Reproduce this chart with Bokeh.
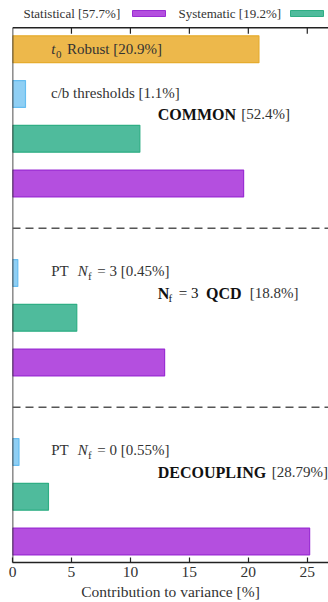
from bokeh.plotting import figure
from bokeh.models import Range1d, FixedTicker, Span
from bokeh.core.properties import value
from bokeh.embed import file_html
from bokeh.resources import INLINE

# ---- values (percent contribution to the variance) ----
groups = ["COMMON", "N_f = 3 QCD", "DECOUPLING"]
group_totals = [52.4, 18.8, 28.79]
statistical = [19.6, 12.9, 25.2]
systematic = [10.8, 5.45, 3.05]
pt_labels = ["c/b thresholds", "PT N_f = 3", "PT N_f = 0"]
pt_values = [1.1, 0.45, 0.55]
t0_robust = 20.9
legend_names = ["Statistical", "Systematic"]
legend_totals = [57.7, 19.2]
x_ticks = [0, 5, 10, 15, 20, 25]

# ---- colours ----
C_STAT, E_STAT = "#b44fdf", "#9a2ed3"
C_SYST, E_SYST = "#4fbb9c", "#2fae84"
C_PT, E_PT = "#8fcff4", "#66bdf0"
C_T0, E_T0 = "#edb84b", "#e6ac2e"
TXT = "#333333"
BOLD = "#111111"
FONT = "Liberation Serif"
NORMAL = "15px"
BOLD_SIZE = "16px"
SUB = "11px"

W, H = 328, 602
LEFT = 12            # frame left edge in px
BOTTOM_PANEL = 40    # height reserved under the frame
X_END = 26.8
Y_START, Y_END = -0.47, 12.09
XS = (W - LEFT) / X_END
YS = (H - BOTTOM_PANEL) / (Y_END - Y_START)


def px_x(px):
    return (px - LEFT) / XS


def px_y(py):
    return Y_END - py / YS


p = figure(width=W, height=H, output_backend="svg", toolbar_location=None,
           x_range=Range1d(0, X_END), y_range=Range1d(Y_START, Y_END),
           y_axis_location=None, min_border_left=LEFT, min_border_right=0,
           min_border_top=0, min_border_bottom=BOTTOM_PANEL)
p.outline_line_color = None
p.xgrid.visible = False
p.ygrid.visible = False
p.background_fill_color = "white"

# slot positions: each group gets a statistical, systematic and PT bar
n = len(groups)
base = [4 * (n - 1 - k) for k in range(n)]
stat_y = [b for b in base]
syst_y = [b + 1 for b in base]
pt_y = [b + 2 for b in base]
t0_y = base[0] + 3
top_spine = t0_y + 0.48

bar_h = 0.6
p.hbar(y=stat_y, left=0, right=statistical, height=bar_h,
       fill_color=C_STAT, line_color=E_STAT, line_width=1.2)
p.hbar(y=syst_y, left=0, right=systematic, height=bar_h,
       fill_color=C_SYST, line_color=E_SYST, line_width=1.2)
p.hbar(y=pt_y, left=0, right=pt_values, height=bar_h,
       fill_color=C_PT, line_color=E_PT, line_width=1.2)
p.hbar(y=[t0_y], left=0, right=[t0_robust], height=bar_h,
       fill_color=C_T0, line_color=E_T0, line_width=1.2)

# group separators
for b in base[1:]:
    p.add_layout(Span(location=b + 3, dimension="width", line_color="#555555",
                      line_width=1.6, line_dash="8 5"))

# frame: left spine, top spine with inward ticks
p.segment(x0=[0], y0=[Y_START], x1=[0], y1=[top_spine],
          line_color="#222222", line_width=1.6)
p.segment(x0=[0], y0=[top_spine], x1=[X_END], y1=[top_spine],
          line_color="#222222", line_width=1.4)
tick_len = 6 / YS
p.segment(x0=x_ticks[1:], y0=[top_spine] * (len(x_ticks) - 1),
          x1=x_ticks[1:], y1=[top_spine - tick_len] * (len(x_ticks) - 1),
          line_color="#222222", line_width=1.2)

# bottom axis
ax = p.xaxis[0]
ax.ticker = FixedTicker(ticks=x_ticks)
ax.major_tick_in = 5
ax.major_tick_out = 0
ax.minor_tick_line_color = None
ax.axis_line_color = "#222222"
ax.axis_line_width = 1.4
ax.major_tick_line_color = "#222222"
ax.major_tick_line_width = 1.2
ax.major_label_text_font = FONT
ax.major_label_text_font_size = "15.5px"
ax.major_label_text_color = TXT
ax.major_label_standoff = 4
ax.axis_label = "Contribution to variance [%]"
ax.axis_label_text_font = FONT
ax.axis_label_text_font_size = "15.5px"
ax.axis_label_text_font_style = "normal"
ax.axis_label_text_color = TXT
ax.axis_label_standoff = 3


def piece(text, px, y, size=NORMAL, style="normal", dy=0, color=TXT,
          align="left"):
    p.text(x=[0], y=[y], text=[text], x_offset=px - LEFT, y_offset=dy,
           text_font=value(FONT), text_font_size=size,
           text_font_style=style, text_color=color,
           text_baseline="middle", text_align=align)


# t0 robust
piece("t", 50.7, t0_y, style="italic")
piece("0", 55.5, t0_y, size=SUB, dy=5)
piece(f"Robust [{t0_robust}%]", 66.5, t0_y)

# PT / threshold labels
piece(f"{pt_labels[0]} [{pt_values[0]}%]", 50.5, pt_y[0] + 0.03)
for k in (1, 2):
    head, rhs = pt_labels[k].split(" = ")
    piece("PT", 50.7, pt_y[k] + 0.04)
    piece("N", 77.3, pt_y[k] + 0.04, style="italic")
    piece("f", 87.5, pt_y[k] + 0.04, size=SUB, dy=5)
    piece(f"= {rhs} [{pt_values[k]}%]", 96.7, pt_y[k] + 0.04)

# group totals
gy = [b + 1.55 for b in base]
piece(groups[0], 157.3, gy[0], size=BOLD_SIZE, style="bold", color=BOLD)
piece(f"[{group_totals[0]}%]", 240.7, gy[0])

piece("N", 157.3, gy[1], size=BOLD_SIZE, style="bold", color=BOLD)
piece("f", 168.0, gy[1], size=SUB, dy=5, color=BOLD)
piece("= 3", 178.3, gy[1], color=BOLD)
piece("QCD", 205.5, gy[1], size=BOLD_SIZE, style="bold", color=BOLD)
piece(f"[{group_totals[1]}%]", 249.3, gy[1])

piece(groups[2], 157.3, gy[2], size=BOLD_SIZE, style="bold", color=BOLD)
piece(f"[{group_totals[2]}%]", 327.5, gy[2], align="right")

# legend row above the frame
ly = px_y(13)
sw_top, sw_bot = px_y(10), px_y(16)
piece(f"{legend_names[0]} [{legend_totals[0]}%]", 23, ly, size="13px")
p.quad(left=[px_x(132)], right=[px_x(165)], top=[sw_top], bottom=[sw_bot],
       fill_color=C_STAT, line_color=E_STAT, line_width=1)
piece(f"{legend_names[1]} [{legend_totals[1]}%]", 178, ly, size="13px")
p.quad(left=[px_x(290)], right=[px_x(323)], top=[sw_top], bottom=[sw_bot],
       fill_color=C_SYST, line_color=E_SYST, line_width=1)

open("out.html", "w").write(file_html(p, INLINE))
